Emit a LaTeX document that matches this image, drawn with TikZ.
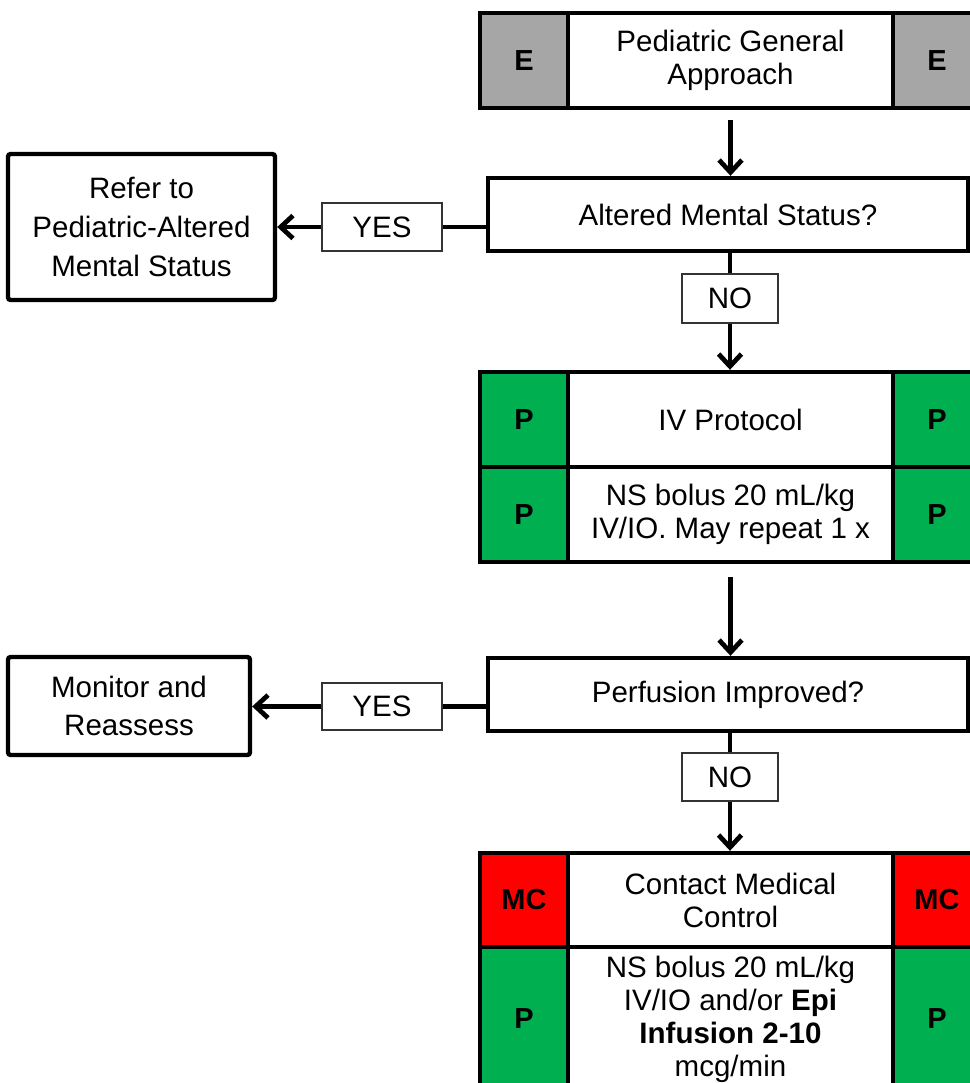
\documentclass[tikz,border=0pt]{standalone}
\usepackage{fontspec}
\setmainfont{Liberation Sans}
\usetikzlibrary{arrows.meta}
\definecolor{egray}{HTML}{A6A6A6}
\definecolor{pgreen}{HTML}{00B050}
\definecolor{mcred}{HTML}{FF0000}
\begin{document}
\begin{tikzpicture}[x=0.02cm,y=-0.02cm,
  wh/.style 2 args={minimum width=#1*0.02cm, minimum height=#2*0.02cm},
  cell/.style={draw, line width=2.5pt, inner sep=0pt, align=center, font=\fontsize{16.8}{18.8}\selectfont},
  tag/.style={cell, font=\fontsize{16.5}{18}\selectfont\bfseries},
  endbox/.style={cell, rounded corners=1.5pt, font=\fontsize{16.8}{22}\selectfont},
  lbl/.style={draw=black!80, line width=0.8pt, fill=white, inner sep=0pt, align=center, font=\fontsize{16.8}{18.8}\selectfont},
  conn/.style={line width=2.7pt},
  arr/.style={conn, -{Straight Barb[length=7pt,width=13pt]}}]
\fill[white] (0,0) rectangle (970,1083);
\useasboundingbox (0,0) rectangle (970,1083);

% top: general approach
\node[tag, fill=egray, wh={88}{95}] (e1) at (524,60.5) {E};
\node[cell, wh={325}{95}] (gen) at (730.5,60.5) {Pediatric General\\Approach};
\node[tag, fill=egray, wh={88}{95}] (e2) at (937,60.5) {E};

% altered mental status
\node[cell, wh={480}{73}] (ams) at (728,214.5) {Altered Mental Status?};
\node[endbox, wh={267}{146}] (refer) at (141.5,227) {Refer to\\Pediatric-Altered\\Mental Status};
\node[lbl, wh={120}{48}] (yes1) at (382,227) {YES};
\node[lbl, wh={96}{49}] (no1) at (730,298.5) {NO};

% IV protocol
\node[tag, fill=pgreen, wh={88}{95}] (p1) at (524,419.5) {P};
\node[cell, wh={325}{95}] (iv) at (730.5,419.5) {IV Protocol};
\node[tag, fill=pgreen, wh={88}{95}] (p2) at (937,419.5) {P};
\node[tag, fill=pgreen, wh={88}{95}] (p3) at (524,514.5) {P};
\node[cell, wh={325}{95}] (ns) at (730.5,514.5) {NS bolus 20 mL/kg\\IV/IO. May repeat 1 x};
\node[tag, fill=pgreen, wh={88}{95}] (p4) at (937,514.5) {P};

% perfusion improved
\node[cell, wh={480}{73}] (perf) at (728,694.5) {Perfusion Improved?};
\node[endbox, wh={242}{98}] (mon) at (129,706) {Monitor and\\Reassess};
\node[lbl, wh={120}{47}] (yes2) at (382,706.5) {YES};
\node[lbl, wh={96}{48}] (no2) at (730,777) {NO};

% medical control
\node[tag, fill=mcred, wh={88}{94}] (mc1) at (524,900) {MC};
\node[cell, wh={325}{94}] (cmc) at (730.5,900) {Contact Medical\\Control};
\node[tag, fill=mcred, wh={88}{94}] (mc2) at (937,900) {MC};
\node[tag, fill=pgreen, wh={88}{144}] (p5) at (524,1019) {P};
\node[cell, wh={325}{144}] (epi) at (730.5,1019) {NS bolus 20 mL/kg\\IV/IO and/or \textbf{Epi}\\\textbf{Infusion 2-10}\\mcg/min};
\node[tag, fill=pgreen, wh={88}{144}] (p6) at (937,1019) {P};

% connectors
\draw[arr, shorten <=10*0.02cm] (gen.south) -- (gen.south |- ams.north);
\draw[conn] (yes1.east) -- (yes1.east -| ams.west);
\draw[arr] (yes1.west) -- (yes1.west -| refer.east);
\draw[conn] (no1.north |- ams.south) -- (no1.north);
\draw[arr] (no1.south) -- (no1.south |- iv.north);
\draw[arr, shorten <=13*0.02cm] (ns.south) -- (ns.south |- perf.north);
\draw[conn] (yes2.east) -- (yes2.east -| perf.west);
\draw[arr] (yes2.west) -- (yes2.west -| mon.east);
\draw[conn] (no2.north |- perf.south) -- (no2.north);
\draw[arr] (no2.south) -- (no2.south |- cmc.north);
\end{tikzpicture}
\end{document}
